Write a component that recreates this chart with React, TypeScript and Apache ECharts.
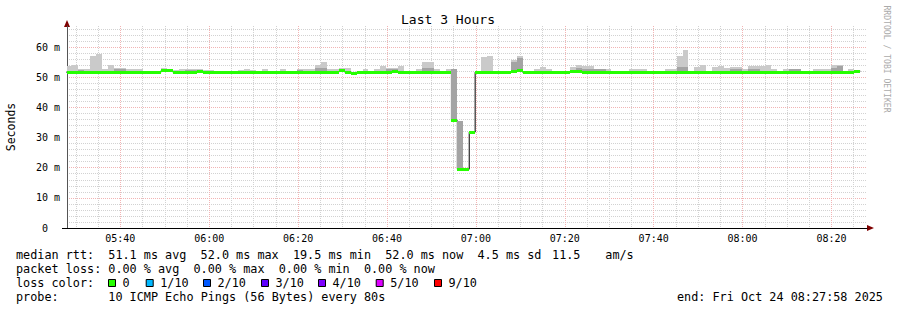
import React, { useEffect, useRef } from "react";
import * as echarts from "echarts";

const FONT = '"DejaVu Sans Mono", "Liberation Mono", monospace';

// ---- time axis (seconds after 05:00) ----
const STEP_SEC = 80;
const FIRST_STEP_SEC = 1670;
const X_MIN_SEC = 1680; // 05:28
const X_MAX_SEC = 12480; // 08:28
const xTickLabels = ["05:40", "06:00", "06:20", "06:40", "07:00", "07:20", "07:40", "08:00", "08:20"];
const yTickValues = [0, 10, 20, 30, 40, 50, 60];

// ---- per 80 s step values (ms) ----
const medianMs = [
  51.7, 51.7, 51.7, 51.7, 51.7, 51.7, 51.7, 51.7, 51.7, 51.7,
  51.7, 51.7, 51.7, 51.7, 51.7, 51.7, 52.2, 52.2, 51.7, 51.7,
  51.7, 51.7, 52.0, 51.7, 51.7, 51.7, 51.7, 51.7, 51.7, 51.7,
  51.7, 51.7, 51.7, 51.7, 51.7, 51.7, 51.7, 51.7, 51.7, 51.7,
  51.7, 51.7, 51.7, 51.7, 51.7, 51.7, 52.1, 51.7, 51.4, 51.7,
  51.7, 51.7, 51.7, 51.7, 51.7, 52.0, 51.7, 51.7, 51.7, 51.7,
  51.7, 51.7, 51.7, 51.7, 51.7, 35.6, 19.5, 19.5, 31.8, 51.7,
  51.7, 51.7, 51.7, 51.7, 51.7, 51.9, 52.1, 51.7, 51.7, 51.7,
  51.7, 51.7, 51.7, 51.7, 51.7, 52.0, 52.0, 51.7, 51.7, 51.7,
  51.7, 51.7, 51.7, 51.7, 51.7, 51.7, 51.7, 51.7, 51.7, 51.7,
  51.7, 51.7, 51.7, 51.7, 51.7, 51.7, 51.7, 51.7, 51.7, 51.7,
  51.7, 51.7, 51.7, 51.7, 51.7, 51.7, 51.7, 51.7, 51.7, 51.7,
  51.7, 51.7, 51.7, 51.7, 51.7, 51.7, 51.7, 51.7, 51.7, 51.7,
  51.7, 51.7, 51.7, 52.0,
];

const smokeOuterMs = [
  53.7, 54.0, 52.6, 52.9, 57.2, 57.6, 52.8, 54.0, 53.2, 53.2,
  52.9, 52.9, 52.6, 51.7, 51.7, 51.7, 53.2, 52.9, 52.3, 52.9,
  52.9, 52.9, 52.8, 52.5, 52.5, 51.7, 51.7, 51.7, 51.7, 52.4,
  52.9, 52.4, 51.7, 52.6, 51.7, 51.7, 52.6, 51.7, 51.7, 52.9,
  52.6, 52.6, 54.2, 54.9, 52.7, 52.6, 53.2, 53.2, 51.4, 51.7,
  52.6, 51.7, 52.6, 53.7, 53.1, 53.1, 53.7, 51.7, 51.7, 52.7,
  55.0, 55.0, 52.9, 51.7, 52.7, 52.6, 35.6, 19.5, 31.8, 51.7,
  56.8, 57.1, 51.7, 51.7, 51.7, 55.6, 57.2, 51.7, 51.7, 52.9,
  53.3, 52.6, 51.7, 51.7, 51.7, 53.3, 54.2, 53.6, 53.6, 52.9,
  52.9, 52.9, 51.7, 51.7, 51.7, 52.6, 52.9, 52.9, 51.7, 51.7,
  51.7, 52.9, 52.6, 57.2, 59.2, 51.7, 53.3, 54.0, 51.7, 53.3,
  53.6, 53.0, 53.3, 53.3, 52.9, 53.6, 53.6, 53.6, 54.2, 52.6,
  51.7, 52.6, 52.9, 52.9, 51.7, 51.7, 52.9, 52.9, 52.9, 54.2,
  54.2, 51.7, 52.6, 52.0,
];

const smokeInnerMs = [
  51.7, 51.7, 52.4, 51.7, 51.7, 51.7, 51.7, 51.7, 52.7, 52.7,
  51.7, 51.7, 51.7, 51.7, 51.7, 51.7, 52.2, 52.2, 51.7, 51.7,
  52.5, 52.5, 52.0, 51.7, 51.7, 51.7, 51.7, 51.7, 51.7, 51.7,
  51.7, 51.7, 51.7, 51.7, 51.7, 51.7, 51.7, 51.7, 51.7, 52.5,
  51.7, 51.7, 53.0, 53.0, 51.7, 51.7, 52.1, 51.7, 51.4, 51.7,
  51.7, 51.7, 51.7, 51.7, 52.6, 52.6, 51.7, 51.7, 51.7, 51.7,
  53.2, 53.2, 51.7, 51.7, 51.7, 52.6, 35.6, 19.5, 31.8, 51.7,
  51.7, 51.7, 51.7, 51.7, 51.7, 55.0, 56.5, 51.7, 51.7, 51.7,
  51.7, 51.7, 51.7, 51.7, 51.7, 52.0, 53.0, 52.8, 52.8, 52.6,
  52.6, 51.7, 51.7, 51.7, 51.7, 51.7, 51.7, 51.7, 51.7, 51.7,
  51.7, 51.7, 51.7, 53.3, 53.3, 51.7, 51.7, 51.7, 51.7, 51.7,
  51.7, 51.7, 52.7, 52.7, 51.7, 52.6, 52.6, 51.7, 51.7, 51.7,
  51.7, 51.7, 52.6, 52.6, 51.7, 51.7, 51.7, 51.7, 51.7, 53.2,
  53.6, 51.7, 51.7, 52.0,
];

// ---- legend / stats text ----
const statsRow1 = ["median rtt:", "51.1 ms avg", "52.0 ms max", "19.5 ms min", "52.0 ms now", "4.5 ms sd", "11.5", "am/s"];
const statsRow2 = ["packet loss:", "0.00 % avg", "0.00 % max", "0.00 % min", "0.00 % now"];
const lossLabels = ["0", "1/10", "2/10", "3/10", "4/10", "5/10", "9/10"];
const lossColors = ["#26ff00", "#00b8ff", "#0059ff", "#5e00ff", "#7e00ff", "#dd00ff", "#ff0000"];
const probeText = "10 ICMP Echo Pings (56 Bytes) every 80s";
const endText = "end: Fri Oct 24 08:27:58 2025";

// layout (columns of the monospace legend)
const row1Cols = [0, 13, 26, 39, 52, 65, 75.5, 83];
const row2Cols = [0, 13, 25, 37, 49];
const lossBoxX = [108, 145.7, 203, 261, 318, 375.7, 434];
const CHAR_W = 7.1;
const LEG_X = 16;

const RED_GRID = "#f2b4b4";
const GRAY_GRID = "#d2d2d2";
const NONE = "rgba(0,0,0,0)";

const pad = (n: number) => String(n).padStart(2, "0");
const secToLabel = (s: number) => {
  const m = Math.round(s / 60) + 300;
  return pad(Math.floor(m / 60)) + ":" + pad(m % 60);
};

export default function App() {
  const ref = useRef<HTMLDivElement>(null);

  useEffect(() => {
    if (!ref.current) return;
    const chart = echarts.init(ref.current, undefined, { renderer: "svg" });

    const n = medianMs.length;
    const stepData = medianMs.map((m, k) => [
      FIRST_STEP_SEC + STEP_SEC * k,
      FIRST_STEP_SEC + STEP_SEC * (k + 1),
      m,
      smokeOuterMs[k],
      smokeInnerMs[k],
    ]);
    const lineData = medianMs.map((m, k) => [FIRST_STEP_SEC + STEP_SEC * k, m]);
    lineData.push([FIRST_STEP_SEC + STEP_SEC * n, medianMs[n - 1]]);

    const xGridColors = Array.from({ length: 20 }, (_, i) =>
      i === 12 ? RED_GRID : i === 2 || i === 7 || i === 17 ? GRAY_GRID : NONE
    );
    const yGridColors = [RED_GRID, GRAY_GRID, GRAY_GRID, GRAY_GRID, GRAY_GRID];

    const txt = (text: string, x: number, y: number, extra: any = {}) => ({
      type: "text",
      x,
      y,
      silent: true,
      style: {
        text,
        fill: "#000",
        fontFamily: FONT,
        fontSize: 11.8,
        align: "left",
        verticalAlign: "middle",
        ...extra,
      },
    });

    const graphics: any[] = [];
    graphics.push(txt("Last 3 Hours", 448, 19.5, { fontSize: 13, align: "center" }));
    graphics.push({ ...txt("Seconds", 11, 127, { fontSize: 11.5, align: "center" }), rotation: Math.PI / 2 });
    graphics.push({
      ...txt("RRDTOOL / TOBI OETIKER", 887, 59, { fontSize: 8.1, align: "center", fill: "#aaaaaa" }),
      rotation: -Math.PI / 2,
    });
    statsRow1.forEach((t, i) => graphics.push(txt(t, LEG_X + row1Cols[i] * CHAR_W, 254.5)));
    statsRow2.forEach((t, i) => graphics.push(txt(t, LEG_X + row2Cols[i] * CHAR_W, 268.5)));
    graphics.push(txt("loss color:", LEG_X, 282.5));
    lossLabels.forEach((t, i) => {
      graphics.push({
        type: "rect",
        silent: true,
        shape: { x: lossBoxX[i] + 0.5, y: 279.5, width: 7, height: 7 },
        style: { fill: lossColors[i], stroke: "#000", lineWidth: 1 },
      });
      graphics.push(txt(t, lossBoxX[i] + 14.5, 282.5));
    });
    graphics.push(txt("probe:", LEG_X, 296.5));
    graphics.push(txt(probeText, LEG_X + 13 * CHAR_W, 296.5));
    graphics.push(txt(endText, 677, 296.5));
    // axis arrows and zero stub
    graphics.push({
      type: "polygon",
      silent: true,
      shape: { points: [[64, 27], [70, 27], [67, 20]] },
      style: { fill: "#7f0000" },
    });
    graphics.push({
      type: "polygon",
      silent: true,
      shape: { points: [[867, 225], [867, 231], [874, 228]] },
      style: { fill: "#7f0000" },
    });
    graphics.push({
      type: "line",
      silent: true,
      shape: { x1: 62, y1: 228.5, x2: 67, y2: 228.5 },
      style: { stroke: "#000", lineWidth: 1 },
    });

    const option: any = {
      animation: false,
      backgroundColor: "#ffffff",
      grid: { left: 67, right: 30, top: 26, bottom: 82 },
      xAxis: {
        type: "value",
        min: X_MIN_SEC,
        max: X_MAX_SEC,
        interval: 60,
        axisLine: { show: true, onZero: false, lineStyle: { color: "#000", width: 1 } },
        axisTick: { show: false },
        axisLabel: {
          margin: 5,
          color: "#000",
          fontFamily: FONT,
          fontSize: 10,
          formatter: (v: number) => {
            const s = secToLabel(v);
            return xTickLabels.includes(s) ? s : "";
          },
        },
        splitLine: { show: true, lineStyle: { color: xGridColors, type: [1, 1], width: 1 } },
      },
      yAxis: {
        type: "value",
        min: 0,
        max: 67,
        interval: 2,
        axisLine: { show: true, lineStyle: { color: "#555", width: 1 } },
        axisTick: { show: false },
        axisLabel: {
          margin: 7,
          color: "#000",
          fontFamily: FONT,
          fontSize: 10,
          showMaxLabel: false,
          formatter: (v: number) =>
            yTickValues.includes(v) ? (v === 0 ? "0\u00a0\u00a0" : `${v} m`) : "",
        },
        splitLine: {
          show: true,
          showMaxLine: false,
          lineStyle: { color: yGridColors, type: [1, 1], width: 1 },
        },
      },
      graphic: graphics,
      series: [
        {
          type: "line",
          name: "median",
          data: lineData,
          step: "end",
          showSymbol: false,
          silent: true,
          z: 2,
          lineStyle: { color: "#000", width: 1 },
        },
        {
          type: "custom",
          name: "smoke",
          data: stepData,
          encode: { x: [0, 1], y: [2, 3, 4] },
          silent: true,
          z: 3,
          renderItem: (params: any, api: any) => {
            const t0 = api.value(0);
            const t1 = api.value(1);
            const med = api.value(2);
            const out = api.value(3);
            const inn = api.value(4);
            const cs = params.coordSys;
            const children: any[] = [];
            const mk = (top: number, fill: string) => {
              const a = api.coord([t0, med]);
              const b = api.coord([t1, top]);
              const x0 = Math.round(a[0]);
              const x1 = Math.round(b[0]);
              const yTop = Math.round(b[1]);
              const yBot = Math.round(a[1]);
              const shape = echarts.graphic.clipRectByRect(
                { x: x0, y: yTop, width: x1 - x0, height: yBot - yTop },
                { x: cs.x, y: cs.y, width: cs.width, height: cs.height }
              );
              if (shape) children.push({ type: "rect", shape, style: { fill } });
            };
            if (out > med) mk(out, "#cacaca");
            if (inn > med) mk(inn, "#a4a4a4");
            return { type: "group", children };
          },
        },
        {
          type: "custom",
          name: "median loss color",
          data: stepData.map((d) => [d[0], d[1], d[2]]),
          encode: { x: [0, 1], y: [2] },
          silent: true,
          z: 4,
          renderItem: (params: any, api: any) => {
            const t0 = api.value(0);
            const t1 = api.value(1);
            const med = api.value(2);
            const cs = params.coordSys;
            const a = api.coord([t0, med]);
            const b = api.coord([t1, med]);
            const x0 = Math.round(a[0]);
            const x1 = Math.round(b[0]);
            const y = Math.round(a[1] - 1.5);
            const shape = echarts.graphic.clipRectByRect(
              { x: x0, y, width: x1 - x0, height: 3 },
              { x: cs.x, y: cs.y, width: cs.width + 1, height: cs.height }
            );
            if (!shape) return null;
            return { type: "rect", shape, style: { fill: lossColors[0] } };
          },
        },
      ],
    };

    chart.setOption(option);
    return () => chart.dispose();
  }, []);

  return (
    <div
      ref={ref}
      style={{ position: "absolute", left: 0, top: 0, width: 897, height: 310, background: "#fff" }}
    />
  );
}
